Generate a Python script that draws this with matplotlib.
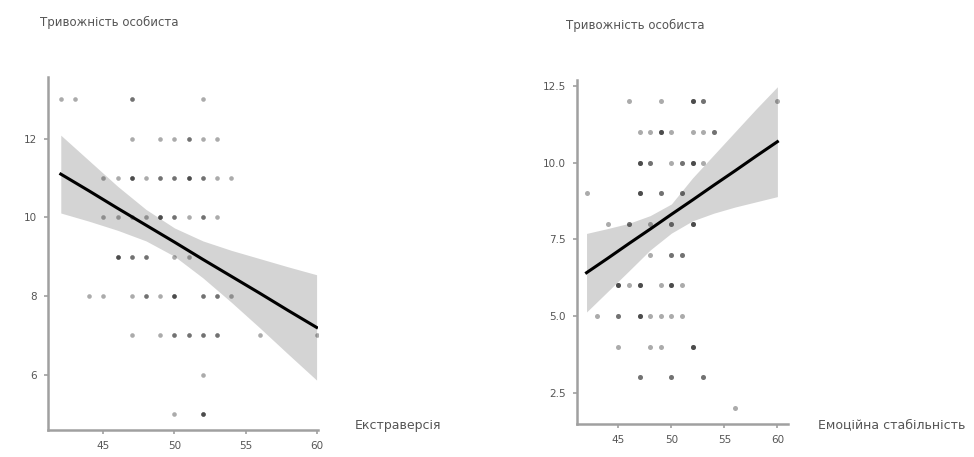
import numpy as np
import matplotlib.pyplot as plt

# left panel: Екстраверсія vs Тривожність особиста (x, y, count of overlapping points)
ext_x = [42, 43, 47, 52,
         47, 49, 50, 51, 52, 53,
         45, 46, 47, 48, 49, 50, 51, 52, 53, 54,
         45, 46, 47, 48, 49, 50, 51, 52, 53,
         46, 47, 48, 50, 51,
         44, 45, 47, 48, 49, 50, 52, 53, 54,
         47, 49, 50, 51, 52, 53, 56, 60,
         52,
         50, 52]
ext_y = [13] * 4 + [12] * 6 + [11] * 10 + [10] * 9 + [9] * 5 + [8] * 9 + [7] * 8 + [6] + [5] * 2
ext_n = [1, 1, 2, 1,
         1, 1, 1, 2, 1, 1,
         1, 1, 3, 1, 2, 2, 3, 2, 1, 1,
         1, 1, 1, 1, 3, 2, 1, 2, 1,
         3, 2, 2, 1, 1,
         1, 1, 1, 2, 1, 3, 2, 2, 1,
         1, 1, 2, 2, 2, 2, 1, 1,
         1,
         1, 3]

# fitted line with confidence band
ext_fit_x = [42, 44, 46, 48, 50, 52, 54, 56, 58, 60]
ext_fit_y = [11.10, 10.67, 10.23, 9.80, 9.37, 8.93, 8.50, 8.07, 7.63, 7.20]
ext_ci_lo = [10.11, 9.90, 9.67, 9.40, 9.01, 8.46, 7.84, 7.19, 6.52, 5.86]
ext_ci_hi = [12.09, 11.44, 10.79, 10.20, 9.73, 9.40, 9.16, 8.95, 8.74, 8.54]

# right panel: Емоційна стабільність vs Тривожність особиста
emo_x = [46, 49, 52, 53, 60,
         47, 48, 49, 50, 52, 53, 54,
         47, 48, 50, 51, 52, 53,
         42, 47, 49, 51,
         44, 46, 48, 50, 52,
         48, 50, 51,
         45, 46, 47, 49, 50, 51,
         43, 45, 47, 48, 49, 50, 51,
         45, 48, 49, 52,
         47, 50, 53,
         56]
emo_y = ([12] * 5 + [11] * 7 + [10] * 6 + [9] * 4 + [8] * 5 + [7] * 3 + [6] * 6
         + [5] * 7 + [4] * 4 + [3] * 3 + [2])
emo_n = [1, 1, 3, 2, 1,
         1, 1, 3, 1, 1, 1, 2,
         3, 2, 1, 2, 3, 1,
         1, 3, 2, 2,
         1, 2, 1, 2, 3,
         1, 2, 2,
         3, 1, 3, 1, 3, 1,
         1, 2, 3, 1, 1, 1, 1,
         1, 1, 1, 3,
         2, 2, 2,
         1]

emo_fit_x = [42, 44, 46, 48, 50, 52, 54, 56, 58, 60]
emo_fit_y = [6.41, 6.88, 7.36, 7.83, 8.31, 8.78, 9.26, 9.73, 10.21, 10.68]
emo_ci_lo = [5.13, 5.80, 6.47, 7.15, 7.70, 8.10, 8.35, 8.55, 8.72, 8.89]
emo_ci_hi = [7.69, 7.85, 8.02, 8.27, 8.65, 9.50, 10.25, 11.00, 11.75, 12.47]

y_title = "Тривожність особиста"

fig = plt.figure(figsize=(9.74, 4.57), dpi=100)
W, H = 974, 457
txt = "#555555"
axc = "#a0a0a0"


def panel(rect, xs, ys, ns, fx, fy, lo, hi, xlim, ylim, yticks, ylabels, size):
    ax = fig.add_axes(rect)
    ax.fill_between(fx, lo, hi, color="#d4d4d4", lw=0, zorder=1)
    px = np.repeat(xs, ns)
    py = np.repeat(ys, ns)
    ax.scatter(px, py, s=size, color="black", alpha=0.33, lw=0, marker="o", zorder=2)
    ax.plot(fx, fy, color="black", lw=2.2, zorder=3)
    ax.set_xlim(*xlim)
    ax.set_ylim(*ylim)
    ax.set_xticks([45, 50, 55, 60])
    ax.set_yticks(yticks)
    ax.set_yticklabels(ylabels)
    for s in ["top", "right"]:
        ax.spines[s].set_visible(False)
    for s in ["left", "bottom"]:
        ax.spines[s].set_color(axc)
        ax.spines[s].set_linewidth(1.8)
    ax.tick_params(colors=axc, labelcolor=txt, labelsize=7.5, length=3, width=1.2, pad=5)
    return ax


panel([48 / W, (H - 430) / H, 270 / W, 353 / H], ext_x, ext_y, ext_n,
      ext_fit_x, ext_fit_y, ext_ci_lo, ext_ci_hi,
      (41.1, 60.1), (4.59, 13.57), [6, 8, 10, 12], ["6", "8", "10", "12"], 11)
panel([577 / W, (H - 424) / H, 211 / W, 344 / H], emo_x, emo_y, emo_n,
      emo_fit_x, emo_fit_y, emo_ci_lo, emo_ci_hi,
      (41.1, 61.0), (1.48, 12.69), [2.5, 5.0, 7.5, 10.0, 12.5],
      ["2.5", "5.0", "7.5", "10.0", "12.5"], 13)

fig.text(40 / W, 1 - 22 / H, y_title, color=txt, fontsize=8.5, va="center", ha="left")
fig.text(566 / W, 1 - 25 / H, y_title, color=txt, fontsize=8.5, va="center", ha="left")
fig.text(355 / W, 1 - 425 / H, "Екстраверсія", color=txt, fontsize=9, va="center", ha="left")
fig.text(818 / W, 1 - 425 / H, "Емоційна стабільність", color=txt, fontsize=9, va="center", ha="left")

fig.savefig("out.png", dpi=100, facecolor="white")
